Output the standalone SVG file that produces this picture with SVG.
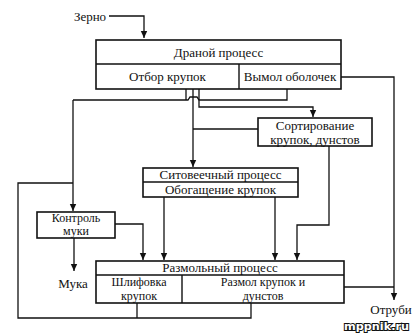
<svg xmlns="http://www.w3.org/2000/svg" width="415" height="335" viewBox="0 0 415 335">
<defs>
<marker id="arr" markerWidth="8" markerHeight="8" refX="7" refY="4" orient="auto" markerUnits="userSpaceOnUse">
<path d="M0,0.8 L7,4 L0,7.2 Z" fill="#111"/>
</marker>
<style>
.box{fill:#fff;stroke:#111;stroke-width:1.6}
.div{fill:none;stroke:#111;stroke-width:1.4}
.ln{fill:none;stroke:#111;stroke-width:1.3}
.ar{marker-end:url(#arr)}
text{font-family:"Liberation Serif","Times New Roman",serif;font-size:13px;fill:#111;text-anchor:middle}
.sm{font-size:12px}
.wm{font-family:"DejaVu Sans",sans-serif;font-weight:bold;font-size:11px;fill:#fff;stroke:#111;stroke-width:2;paint-order:stroke;text-anchor:start}
</style>
</defs>
<rect width="415" height="335" fill="#fff"/>

<g id="connectors">
<path class="ln ar" d="M109,16 H144 V38"/>
<path class="ln ar" d="M341,77 H394 V300"/>
<path class="ln" d="M344,287 H394"/>
<path class="ln" d="M287,89 V100 H199 L197,97 H190 L188,100 H73"/>
<path class="ln" d="M186,89 V100"/>
<path class="ln ar" d="M73,100 V211"/>
<path class="ln ar" d="M193,89 V167"/>
<path class="ln ar" d="M199,89 V107 H313 V117"/>
<path class="ln" d="M258,129 H193"/>
<path class="ln ar" d="M329,146 V225 H297 V260"/>
<path class="ln ar" d="M164,197 V260"/>
<path class="ln ar" d="M275,197 V260"/>
<path class="ln ar" d="M115,224 H143 V260"/>
<path class="ln ar" d="M74,238 V271"/>
<path class="ln" d="M137,303 V318 M251,303 V318 H18 V183 H73"/>
</g>

<g id="zerno"><text x="90" y="21">Зерно</text></g>

<g id="drano">
<rect class="box" x="96" y="40" width="245" height="49"/>
<path class="div" d="M96,64 H341 M239,64 V89"/>
<text x="218.5" y="57">Драной процесс</text>
<text x="167.5" y="81">Отбор крупок</text>
<text x="290" y="81">Вымол оболочек</text>
</g>

<g id="sort">
<rect class="box" x="258" y="118" width="114" height="28"/>
<text x="315" y="130">Сортирование</text>
<text x="315" y="144">крупок, дунстов</text>
</g>

<g id="sito">
<rect class="box" x="143" y="168" width="155" height="29"/>
<path class="div" d="M143,182 H298"/>
<text x="220.5" y="179">Ситовеечный процесс</text>
<text x="220.5" y="194">Обогащение крупок</text>
</g>

<g id="kontrol">
<rect class="box" x="37" y="212" width="78" height="26"/>
<text class="sm" x="76" y="222">Контроль</text>
<text class="sm" x="76" y="235">муки</text>
</g>

<g id="razmol">
<rect class="box" x="96" y="261" width="248" height="42"/>
<path class="div" d="M96,275 H344 M182,275 V303"/>
<text x="220" y="272">Размольный процесс</text>
<text class="sm" x="139" y="286">Шлифовка</text>
<text class="sm" x="139" y="300">крупок</text>
<text class="sm" x="263" y="286">Размол крупок и</text>
<text class="sm" x="263" y="300">дунстов</text>
</g>

<g id="muka"><text x="73" y="288">Мука</text></g>
<g id="otrubi"><text x="391" y="314">Отруби</text></g>
<g id="watermark"><text class="wm" x="344" y="330" textLength="65" lengthAdjust="spacingAndGlyphs">mppnik.ru</text></g>
</svg>
